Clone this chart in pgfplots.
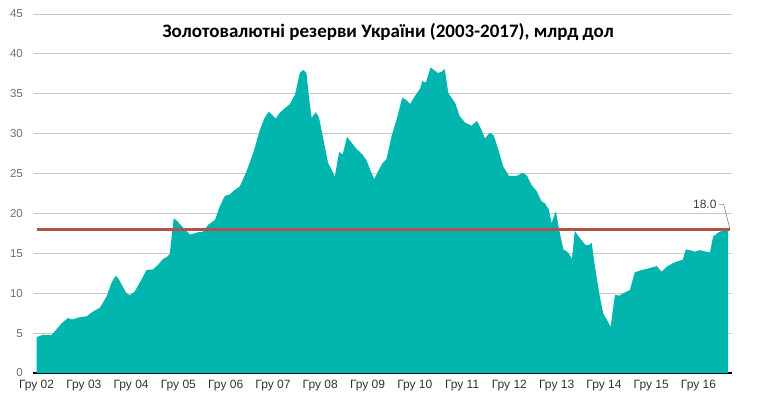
\documentclass[border=0pt]{standalone}
\usepackage{fontspec}
\setmainfont{Liberation Sans}
\newfontfamily\titlefont{Carlito}
\usepackage{pgfplots}
\pgfplotsset{compat=1.18}
\definecolor{areacol}{RGB}{0,181,173}
\definecolor{redline}{RGB}{178,82,76}
\definecolor{gridcol}{RGB}{200,200,200}
\definecolor{ylab}{RGB}{110,110,110}
\definecolor{xlab}{RGB}{50,50,50}
\definecolor{anncol}{RGB}{60,60,60}
\begin{document}
\begin{tikzpicture}
\useasboundingbox (-33bp,-25bp) rectangle (727bp,373bp);
\begin{axis}[
  scale only axis, width=699bp, height=359bp, at={(0,0)}, anchor=south west,
  xmin=-0.9, xmax=176.5, ymin=0, ymax=45,
  axis x line*=bottom, axis y line*=left,
  x axis line style={black, line width=1.2bp, -},
  y axis line style={draw=none},
  ytick={0,5,...,45}, xtick={0,12,...,168},
  xticklabels={Гру 02,Гру 03,Гру 04,Гру 05,Гру 06,Гру 07,Гру 08,Гру 09,Гру 10,Гру 11,Гру 12,Гру 13,Гру 14,Гру 15,Гру 16},
  major tick length=0pt,
  ymajorgrids, grid style={gridcol, line width=0.8bp},
  yticklabel style={font=\fontsize{11.5bp}{13bp}\selectfont, text=ylab, anchor=east, inner sep=0pt, xshift=-10bp},
  xticklabel style={font=\fontsize{12bp}{14bp}\selectfont, text=xlab, anchor=north, inner sep=0pt, yshift=-7bp},
  /pgf/number format/assume math mode=true,
  clip=false,
]
\addplot[fill=areacol, draw=none] coordinates {
(0,4.5) (1.7,4.8) (3.8,4.75) (6.3,6.2) (8,6.9) (9,6.7) (11,7.0) (12.7,7.1) (14,7.6) (16.1,8.2)
(17.8,9.6) (19,11.3) (20.1,12.2) (20.8,11.8) (22.8,10.0) (23.7,9.75) (24.9,10.2) (26.6,11.7)
(27.9,12.9) (29.6,13.0) (30.9,13.6) (32.1,14.3) (33,14.5) (33.8,14.9) (34.8,19.4) (35.6,19.1)
(37.6,18.0) (39,17.35) (40.1,17.5) (41.4,17.7) (42.2,17.7) (43.6,18.6) (45.3,19.2) (46.5,20.9)
(47.8,22.2) (49.1,22.4) (49.9,22.8) (51.6,23.4) (53.3,25.3) (55,27.6) (56.7,30.5) (57.9,32.0)
(58.9,32.75) (59.7,32.4) (60.7,31.9) (61.7,32.6) (63,33.2) (64.3,33.7) (65.6,34.9) (66.8,37.6)
(67.7,38.0) (68.5,37.6) (69.2,34.3) (69.8,32.0) (70.9,32.7) (71.7,32.0) (72.7,29.5) (74,26.3)
(74.9,25.5) (75.7,24.6) (76.8,27.7) (77.7,27.4) (78.8,29.6) (79.9,28.9) (81.2,28.1) (82.7,27.4)
(83.8,26.6) (84.8,25.3) (85.7,24.3) (86.7,25.3) (87.8,26.3) (88.8,26.8) (90.1,29.7) (91.4,31.8)
(92.8,34.5) (93.9,34.2) (94.8,33.7) (96,34.7) (97.3,35.6) (97.9,36.6) (98.8,36.4) (100,38.3)
(100.8,38.0) (101.9,37.6) (102.9,37.8) (103.6,38.1) (104.5,35.1) (105.3,34.5) (106.2,33.9)
(107.4,32.2) (108.7,31.4) (110.4,31.0) (111.8,31.6) (112.9,30.5) (113.8,29.4) (115,30.1)
(116,29.8) (117.2,28.0) (118.4,25.9) (119.9,24.7) (121.8,24.7) (123.5,25.1) (124.5,24.7)
(125.6,23.6) (126.9,22.8) (128.2,21.5) (129,21.3) (130,20.5) (130.7,18.8) (131.8,20.3)
(132.6,18.0) (133.7,15.5) (134.9,15.1) (135.9,14.3) (136.6,17.8) (137.9,16.9) (139.2,16.1)
(140.1,16.0) (140.9,16.3) (141.7,13.4) (142.8,10.0) (143.8,7.5) (144.7,6.7) (145.7,5.8)
(146.8,9.8) (147.9,9.7) (149.3,10.1) (150.6,10.4) (151.8,12.6) (153.5,12.9) (155.2,13.1)
(157.4,13.4) (158.6,12.7) (159.9,13.3) (161.6,13.8) (163.3,14.1) (164,14.2) (164.8,15.5)
(165.8,15.4) (167.1,15.2) (168.3,15.4) (170,15.2) (170.9,15.1) (171.7,17.1) (173,17.6)
(174.3,17.9) (175.5,18.0)
} \closedcycle;
\addplot[redline, line width=3bp] coordinates {(0,18) (176,18)};
\node[anchor=east, inner sep=0pt, font=\fontsize{12bp}{14bp}\selectfont, text=anncol] at (axis cs:172.6,21.1) {18.0};
\draw[gray, line width=0.6bp] (axis cs:173.1,21.1) -- (axis cs:174.4,21.1) -- (axis cs:176,18);
\node[font=\titlefont\bfseries\fontsize{19bp}{22bp}\selectfont] at (rel axis cs:0.508,0.951) {Золотовалютні резерви України (2003-2017), млрд дол};
\end{axis}
\end{tikzpicture}
\end{document}
